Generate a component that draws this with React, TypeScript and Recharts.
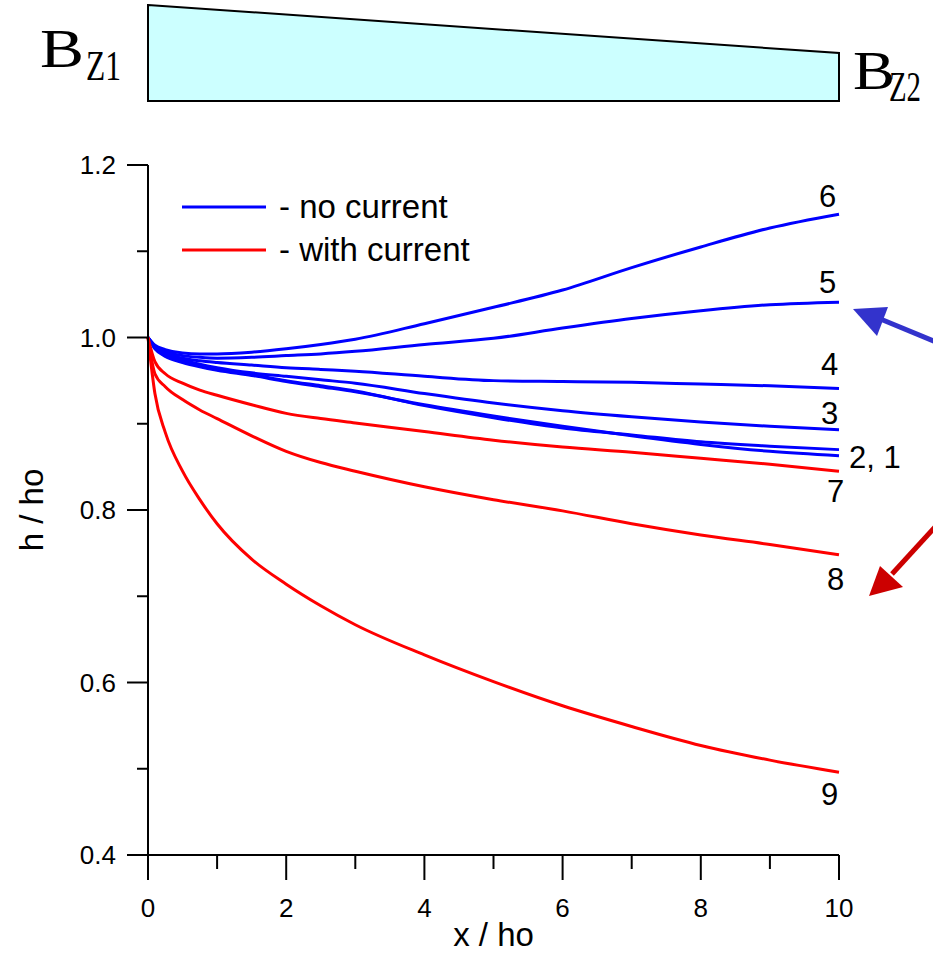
import { LineChart, Line, XAxis, YAxis, Legend } from 'recharts'

// x / ho sample positions
const xValues = [0, 0.1, 0.25, 0.5, 0.75, 1, 1.5, 2, 2.5, 3, 4, 5, 6, 7, 8, 9, 10]

// no current (blue)
const curve1 = [1.0, 0.987, 0.978, 0.971, 0.966, 0.962, 0.956, 0.949, 0.943, 0.937, 0.922, 0.909, 0.897, 0.886, 0.876, 0.868, 0.863]
const curve2 = [1.0, 0.988, 0.979, 0.972, 0.967, 0.963, 0.957, 0.95, 0.944, 0.938, 0.921, 0.907, 0.895, 0.887, 0.879, 0.874, 0.87]
const curve3 = [1.0, 0.988, 0.98, 0.974, 0.969, 0.965, 0.959, 0.955, 0.951, 0.947, 0.935, 0.924, 0.915, 0.908, 0.902, 0.897, 0.893]
const curve4 = [1.0, 0.989, 0.982, 0.976, 0.973, 0.971, 0.968, 0.965, 0.963, 0.961, 0.955, 0.95, 0.949, 0.948, 0.946, 0.944, 0.941]
const curve5 = [1.0, 0.99, 0.984, 0.979, 0.977, 0.976, 0.977, 0.979, 0.981, 0.984, 0.992, 0.999, 1.011, 1.022, 1.031, 1.038, 1.041]
const curve6 = [1.0, 0.991, 0.986, 0.982, 0.981, 0.981, 0.983, 0.987, 0.992, 0.998, 1.016, 1.035, 1.055, 1.081, 1.105, 1.127, 1.143]

// with current (red)
const curve7 = [1.0, 0.972, 0.958, 0.947, 0.939, 0.933, 0.922, 0.912, 0.906, 0.901, 0.891, 0.881, 0.873, 0.867, 0.86, 0.853, 0.845]
const curve8 = [1.0, 0.958, 0.943, 0.928, 0.916, 0.906, 0.886, 0.868, 0.855, 0.845, 0.827, 0.812, 0.799, 0.784, 0.771, 0.76, 0.748]
const curve9 = [1.0, 0.935, 0.89, 0.845, 0.812, 0.784, 0.743, 0.714, 0.689, 0.667, 0.632, 0.601, 0.573, 0.549, 0.527, 0.51, 0.496]

const xTicks = [0, 1, 2, 3, 4, 5, 6, 7, 8, 9, 10]
const yTicks = [0.4, 0.5, 0.6, 0.7, 0.8, 0.9, 1.0, 1.1, 1.2]

const BLUE = '#0000ff'
const RED = '#ff0000'
const FONT = '"Liberation Sans", Arial, sans-serif'
const SERIF = '"Liberation Serif", "Times New Roman", serif'

const data = xValues.map((x, i) => ({
  x,
  c1: curve1[i],
  c2: curve2[i],
  c3: curve3[i],
  c4: curve4[i],
  c5: curve5[i],
  c6: curve6[i],
  c7: curve7[i],
  c8: curve8[i],
  c9: curve9[i],
}))

// series: key, colour, end label text, label offset from last point
const series = [
  { key: 'c1', color: BLUE, text: '', dx: 0, dy: 0 },
  { key: 'c2', color: BLUE, text: '2, 1', dx: 10, dy: 18 },
  { key: 'c3', color: BLUE, text: '3', dx: -18, dy: -6 },
  { key: 'c4', color: BLUE, text: '4', dx: -18, dy: -13 },
  { key: 'c5', color: BLUE, text: '5', dx: -20, dy: -9 },
  { key: 'c6', color: BLUE, text: '6', dx: -20, dy: -7 },
  { key: 'c7', color: RED, text: '7', dx: -12, dy: 31 },
  { key: 'c8', color: RED, text: '8', dx: -12, dy: 35 },
  { key: 'c9', color: RED, text: '9', dx: -18, dy: 33 },
]

const XTick = (props: any) => {
  const { x, y, payload } = props
  const major = payload.value % 2 === 0
  return (
    <g>
      <line x1={x} y1={y} x2={x} y2={y + (major ? 25 : 14)} stroke="#000" strokeWidth={2} />
      {major && (
        <text x={x} y={y + 62} textAnchor="middle" fontFamily={FONT} fontSize={26} fill="#000">
          {payload.value}
        </text>
      )}
    </g>
  )
}

const YTick = (props: any) => {
  const { x, y, payload } = props
  const major = Math.round(payload.value * 10) % 2 === 0
  return (
    <g>
      <line x1={x - (major ? 21 : 11)} y1={y} x2={x} y2={y} stroke="#000" strokeWidth={2} />
      {major && (
        <text x={x - 32} y={y + 9} textAnchor="end" fontFamily={FONT} fontSize={26} fill="#000">
          {payload.value.toFixed(1)}
        </text>
      )}
    </g>
  )
}

const endLabel = (s: (typeof series)[number]) => (props: any) => {
  const { x, y, index } = props
  if (index !== xValues.length - 1 || !s.text) return null
  return (
    <text x={x + s.dx} y={y + s.dy} fontFamily={FONT} fontSize={31} fill="#000">
      {s.text}
    </text>
  )
}

const LegendBox = () => (
  <svg width={330} height={90}>
    <line x1={0} y1={19} x2={84} y2={19} stroke={BLUE} strokeWidth={3} />
    <text x={97} y={30} fontFamily={FONT} fontSize={33} fill="#000">- no current</text>
    <line x1={0} y1={62} x2={84} y2={62} stroke={RED} strokeWidth={3} />
    <text x={97} y={73} fontFamily={FONT} fontSize={33} fill="#000">- with current</text>
  </svg>
)

export default function App() {
  return (
    <div style={{ position: 'absolute', left: 0, top: 0, width: 933, height: 953, background: '#fff' }}>
      <LineChart
        width={933}
        height={953}
        data={data}
        margin={{ top: 165, right: 94, bottom: 68, left: 88 }}
      >
        <XAxis
          dataKey="x"
          type="number"
          domain={[0, 10]}
          ticks={xTicks}
          interval={0}
          height={30}
          tickSize={0}
          tickMargin={0}
          tick={<XTick />}
          axisLine={{ stroke: '#000', strokeWidth: 2 }}
          label={{
            content: (p: any) => (
              <text
                x={p.viewBox.x + p.viewBox.width / 2}
                y={p.viewBox.y + 91}
                textAnchor="middle"
                fontFamily={FONT}
                fontSize={33}
                fill="#000"
              >
                x / ho
              </text>
            ),
          }}
        />
        <YAxis
          type="number"
          domain={[0.4, 1.2]}
          ticks={yTicks}
          interval={0}
          width={60}
          tickSize={0}
          tickMargin={0}
          tick={<YTick />}
          axisLine={{ stroke: '#000', strokeWidth: 2 }}
          label={{
            content: (p: any) => {
              const cx = p.viewBox.x - 57
              const cy = p.viewBox.y + p.viewBox.height / 2
              return (
                <text
                  x={cx}
                  y={cy}
                  transform={`rotate(-90, ${cx}, ${cy})`}
                  textAnchor="middle"
                  dominantBaseline="central"
                  fontFamily={FONT}
                  fontSize={33}
                  fill="#000"
                >
                  h / ho
                </text>
              )
            },
          }}
        />
        <Legend
          layout="horizontal"
          verticalAlign="middle"
          align="center"
          wrapperStyle={{ position: 'absolute', left: 182, top: 188, width: 330, height: 90 }}
          content={<LegendBox />}
        />
        {series.map((s) => (
          <Line
            key={s.key}
            dataKey={s.key}
            type="monotone"
            stroke={s.color}
            strokeWidth={3}
            dot={false}
            isAnimationActive={false}
            label={endLabel(s)}
          />
        ))}
      </LineChart>
      <svg
        width={933}
        height={953}
        style={{ position: 'absolute', left: 0, top: 0, pointerEvents: 'none' }}
      >
        <polygon points="148,5 839,53 839,101 148,101" fill="#ccffff" stroke="#000" strokeWidth={2} />
        <text x={40} y={67} fontFamily={SERIF} fontSize={54} textLength={44} lengthAdjust="spacingAndGlyphs">B</text>
        <text x={86} y={80} fontFamily={SERIF} fontSize={42} textLength={35} lengthAdjust="spacingAndGlyphs">Z1</text>
        <text x={853} y={89} fontFamily={SERIF} fontSize={54} textLength={42} lengthAdjust="spacingAndGlyphs">B</text>
        <text x={889} y={101} fontFamily={SERIF} fontSize={42} textLength={32} lengthAdjust="spacingAndGlyphs">Z2</text>
        <line x1={936} y1={342} x2={878} y2={318} stroke="#3333cc" strokeWidth={5} />
        <polygon points="853,309 888,307 877,336" fill="#3333cc" />
        <line x1={936} y1={526} x2={892} y2={574} stroke="#cc0000" strokeWidth={5} />
        <polygon points="869,596 903,587 880,566" fill="#cc0000" />
      </svg>
    </div>
  )
}
